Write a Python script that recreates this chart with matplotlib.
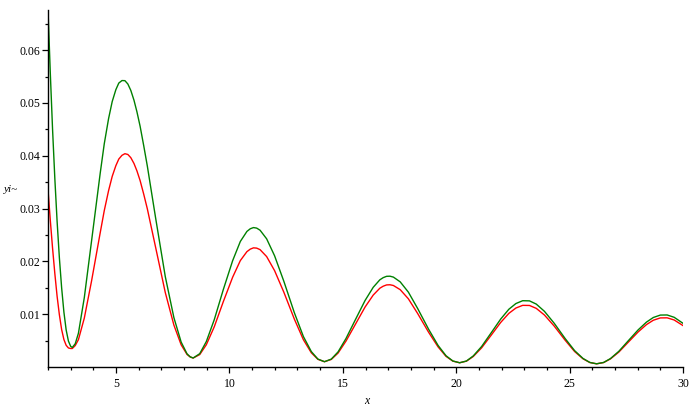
import matplotlib
matplotlib.use("Agg")
import matplotlib.pyplot as plt
from matplotlib.ticker import FixedLocator, MultipleLocator, FormatStrFormatter

# values (x, green curve, red curve)
x = [2.0, 2.1, 2.2, 2.3, 2.4, 2.5, 2.6, 2.7, 2.8, 2.9, 3.0, 3.07,
     3.20, 3.34, 3.60, 3.92, 4.30, 4.48, 4.67, 4.83, 4.99, 5.12, 5.26, 5.39, 5.52, 5.65, 5.79,
     5.92, 6.06, 6.22, 6.38, 6.75, 7.17, 7.55, 7.87, 8.13, 8.27, 8.40,
     8.69, 8.98, 9.33, 9.73, 10.14, 10.48, 10.77, 10.92, 11.06, 11.20, 11.35, 11.64, 11.99,
     12.40, 12.86, 13.26, 13.61, 13.90, 14.19,
     14.49, 14.79, 15.14, 15.56, 15.98, 16.34, 16.63, 16.78, 16.93, 17.08, 17.23, 17.53, 17.89,
     18.30, 18.78, 19.20, 19.55, 19.85, 20.15,
     20.45, 20.75, 21.12, 21.54, 21.96, 22.32, 22.63, 22.93, 23.23, 23.53, 23.89,
     24.32, 24.80, 25.22, 25.59, 25.89, 26.19,
     26.50, 26.80, 27.17, 27.59, 28.02, 28.39, 28.69, 29.00, 29.30, 29.61, 30.00]

green = [0.0676, 0.0557, 0.0450, 0.0357, 0.0276, 0.0207, 0.0150, 0.0104, 0.0070, 0.0049, 0.0039, 0.0037,
         0.00440, 0.00638, 0.01314, 0.02388, 0.03666, 0.04227, 0.04703, 0.05026, 0.05250, 0.05376, 0.05424,
         0.05422, 0.05359, 0.05238, 0.05052,
         0.04833, 0.04560, 0.04190, 0.03802, 0.02807, 0.01713, 0.00935, 0.00472, 0.00249, 0.00192, 0.00170,
         0.00252, 0.00481, 0.00895, 0.01467, 0.02012, 0.02377, 0.02567, 0.02618, 0.02640, 0.02630, 0.02590,
         0.02427, 0.02106,
         0.01621, 0.01030, 0.00577, 0.00292, 0.00150, 0.00100,
         0.00149, 0.00286, 0.00540, 0.00901, 0.01259, 0.01509, 0.01650, 0.01692, 0.01717, 0.01719, 0.01702,
         0.01612, 0.01417,
         0.01107, 0.00716, 0.00408, 0.00213, 0.00114, 0.00080,
         0.00113, 0.00209, 0.00388, 0.00646, 0.00907, 0.01093, 0.01201, 0.01255, 0.01252, 0.01191, 0.01054,
         0.00828, 0.00540, 0.00310, 0.00162, 0.00086, 0.00060,
         0.00086, 0.00159, 0.00297, 0.00498, 0.00702, 0.00850, 0.00937, 0.00983, 0.00985, 0.00941, 0.00827]

red = [0.0335, 0.0278, 0.0225, 0.0177, 0.0134, 0.0099, 0.0071, 0.0052, 0.0041, 0.0036, 0.0035, 0.0035,
       0.00406, 0.00517, 0.00926, 0.01630, 0.02539, 0.02961, 0.03339, 0.03609, 0.03811, 0.03937, 0.04008,
       0.04039, 0.04024, 0.03964, 0.03854,
       0.03714, 0.03531, 0.03272, 0.02993, 0.02254, 0.01411, 0.00794, 0.00420, 0.00237, 0.00189, 0.00170,
       0.00235, 0.00421, 0.00761, 0.01238, 0.01699, 0.02015, 0.02184, 0.02232, 0.02256, 0.02251, 0.02222,
       0.02091, 0.01825,
       0.01415, 0.00909, 0.00517, 0.00269, 0.00145, 0.00100,
       0.00143, 0.00264, 0.00491, 0.00813, 0.01135, 0.01362, 0.01491, 0.01530, 0.01554, 0.01557, 0.01543,
       0.01464, 0.01291,
       0.01012, 0.00659, 0.00380, 0.00201, 0.00111, 0.00080,
       0.00110, 0.00198, 0.00363, 0.00601, 0.00843, 0.01015, 0.01116, 0.01167, 0.01165, 0.01110, 0.00984,
       0.00775, 0.00508, 0.00293, 0.00155, 0.00085, 0.00060,
       0.00084, 0.00153, 0.00282, 0.00471, 0.00663, 0.00803, 0.00885, 0.00929, 0.00931, 0.00890, 0.00784]

y_ticks = [0.01, 0.02, 0.03, 0.04, 0.05, 0.06]
y_minor = [0.005, 0.015, 0.025, 0.035, 0.045, 0.055, 0.065]

plt.rcParams['font.family'] = ['Liberation Serif', 'DejaVu Serif']

fig = plt.figure(figsize=(6.92, 4.15), dpi=100)
ax = fig.add_axes([0.0694, 0.1157, 0.9176, 0.8602])

ax.plot(x, red, color='#ff0000', lw=1.0)
ax.plot(x, green, color='#008000', lw=1.0)

ax.set_xlim(2, 30)
ax.set_ylim(0, 0.0676)

for s in ['top', 'right']:
    ax.spines[s].set_visible(False)
for s in ['left', 'bottom']:
    ax.spines[s].set_linewidth(1.0)

ax.xaxis.set_major_locator(MultipleLocator(5))
ax.xaxis.set_minor_locator(MultipleLocator(1))
ax.yaxis.set_major_locator(FixedLocator(y_ticks))
ax.yaxis.set_minor_locator(FixedLocator(y_minor))
ax.yaxis.set_major_formatter(FormatStrFormatter('%.2f'))

ax.tick_params(which='major', direction='out', length=4, width=0.9, labelsize=8.5, pad=1.5)
ax.tick_params(which='minor', direction='out', length=2.5, width=0.9)
ax.tick_params(axis='x', which='major', pad=4)

fig.text(366.7 / 692, 1 - 401 / 415, 'x', style='italic', fontsize=8.5, ha='center', va='center')
fig.text(11 / 692, 1 - 190 / 415, 'yi~', style='italic', fontsize=8, ha='center', va='center')

fig.savefig('out.png', dpi=100)
